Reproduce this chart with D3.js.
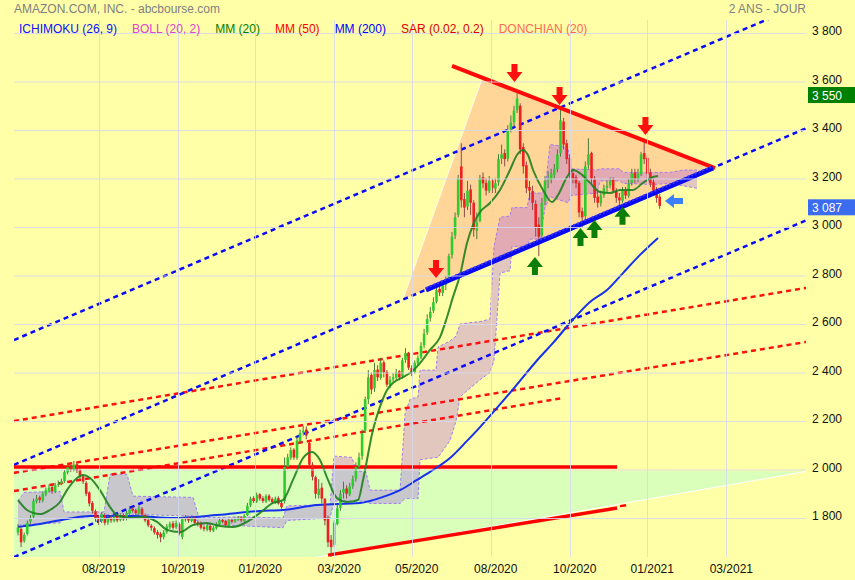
<!DOCTYPE html>
<html><head><meta charset="utf-8">
<script src="https://cdn.jsdelivr.net/npm/d3@7"></script>
<style>
html,body{margin:0;padding:0;background:#ffffa8;}
svg{display:block;font-family:"Liberation Sans",Arial,sans-serif;}
</style></head><body>
<svg id="c" width="855" height="580"></svg>
<script>
// ---------- DATA ----------
// one candle every 2 trading days; day 0 ~ early June 2019
const candleStep = 2;
const opens = [
1740,1755,1705,1735,1785,1805,1868,1885,1872,1898,
1912,1928,1908,1938,1942,1952,1988,2012,1998,2022,
1998,1972,1945,1905,1862,1828,1805,1788,1812,1782,
1802,1788,1808,1792,1812,1796,1818,1838,1832,1818,
1838,1812,1792,1768,1758,1742,1735,1722,1742,1762,
1778,1762,1775,1722,1800,1798,1788,1802,1782,1778,
1762,1752,1768,1748,1758,1772,1792,1788,1768,1792,
1786,1792,1802,1788,1812,1852,1882,1868,1898,1882,
1868,1892,1878,1862,1882,1862,1870,2012,2048,2082,
2048,2118,2152,2165,2110,2020,1968,1895,1925,1880,
1800,1710,1690,1775,1842,1905,1922,1898,1932,1962,
2012,2055,2160,2290,2390,2335,2412,2378,2442,2402,
2348,2372,2378,2405,2385,2452,2482,2418,2402,2438,
2462,2512,2565,2625,2655,2692,2745,2728,2762,2790,
2885,2965,3050,3250,3115,3085,3155,3100,2985,3025,
3205,3182,3148,3192,3158,3185,3282,3305,3282,3402,
3432,3482,3500,3330,3255,3165,3148,3095,3010,2965,
3105,3192,3195,3215,3238,3305,3435,3345,3285,3222,
3205,3182,3065,3045,3255,3305,3195,3125,3098,3132,
3162,3172,3195,3148,3122,3108,3152,3128,3182,3225,
3198,3218,3305,3285,3225,3185,3148,3125];
const highs = [
1775,1762,1740,1790,1812,1880,1895,1892,1910,1925,
1938,1934,1945,1955,1962,1998,2025,2018,2035,2028,
2005,1980,1952,1910,1870,1835,1812,1825,1820,1810,
1812,1815,1815,1820,1818,1830,1848,1845,1838,1852,
1845,1818,1798,1775,1765,1750,1742,1750,1775,1785,
1788,1790,1782,1802,1812,1805,1810,1806,1790,1785,
1770,1778,1775,1768,1782,1798,1800,1792,1798,1798,
1802,1808,1808,1815,1862,1888,1890,1905,1902,1890,
1898,1898,1885,1888,1890,1870,2050,2065,2092,2088,
2135,2165,2180,2178,2115,2030,1975,1960,1945,1880,
1810,1730,1790,1855,1915,1950,1935,1945,1975,2030,
2070,2165,2300,2410,2400,2440,2430,2460,2450,2410,
2385,2398,2415,2410,2460,2500,2485,2430,2450,2470,
2525,2580,2640,2670,2710,2760,2760,2775,2800,2890,
2980,3060,3215,3345,3140,3190,3175,3110,3060,3215,
3225,3200,3210,3200,3200,3300,3340,3320,3420,3460,
3500,3552,3510,3345,3270,3190,3170,3110,3040,3120,
3210,3230,3240,3260,3320,3496,3450,3360,3300,3240,
3215,3190,3080,3270,3366,3310,3210,3150,3150,3175,
3190,3205,3205,3160,3140,3165,3165,3200,3240,3240,
3240,3310,3350,3295,3240,3200,3165,3135];
const lows = [
1728,1680,1698,1728,1776,1798,1860,1862,1865,1890,
1905,1900,1902,1928,1935,1945,1980,1990,1992,1985,
1962,1940,1890,1848,1818,1785,1772,1780,1770,1772,
1780,1782,1782,1785,1788,1790,1812,1822,1812,1812,
1808,1782,1762,1748,1732,1715,1700,1712,1735,1755,
1752,1755,1728,1712,1785,1780,1782,1772,1765,1752,
1745,1745,1742,1742,1752,1768,1778,1762,1765,1778,
1780,1788,1782,1782,1808,1845,1862,1862,1872,1862,
1862,1868,1858,1858,1855,1838,1860,2000,2040,2040,
2040,2110,2140,2125,2010,1955,1880,1880,1860,1770,
1680,1640,1680,1770,1830,1880,1880,1890,1920,1950,
2000,2040,2150,2270,2310,2320,2365,2370,2380,2340,
2335,2360,2365,2368,2375,2440,2410,2385,2395,2430,
2455,2500,2555,2610,2645,2685,2715,2715,2740,2780,
2870,2950,3040,3080,3040,3070,3050,2960,2950,3020,
3160,3130,3140,3140,3140,3170,3260,3250,3270,3390,
3415,3470,3300,3220,3140,3110,3070,2960,2880,2950,
3090,3160,3180,3200,3225,3290,3320,3260,3200,3180,
3160,3040,3000,3030,3240,3180,3100,3080,3085,3120,
3140,3160,3140,3100,3090,3100,3115,3120,3170,3180,
3185,3210,3260,3200,3165,3135,3100,3075];
const closes = [
1760,1700,1730,1780,1800,1870,1880,1875,1900,1915,
1925,1910,1935,1940,1950,1990,2010,2000,2020,1995,
1975,1950,1900,1860,1830,1800,1790,1815,1780,1800,
1790,1805,1790,1810,1795,1820,1835,1830,1820,1840,
1815,1790,1770,1760,1740,1730,1720,1740,1765,1775,
1760,1780,1735,1795,1795,1790,1800,1780,1775,1760,
1755,1770,1750,1760,1775,1790,1785,1770,1790,1785,
1795,1800,1790,1810,1850,1880,1870,1895,1880,1870,
1890,1875,1865,1880,1860,1845,2010,2050,2080,2050,
2120,2150,2160,2140,2020,1970,1900,1920,1880,1790,
1700,1680,1780,1840,1900,1920,1900,1930,1960,2010,
2050,2150,2290,2380,2330,2410,2380,2440,2400,2350,
2370,2380,2400,2380,2450,2480,2420,2400,2440,2460,
2510,2560,2620,2650,2690,2740,2730,2760,2780,2880,
2960,3040,3200,3110,3080,3150,3100,2990,3020,3200,
3180,3150,3190,3160,3180,3280,3300,3280,3400,3430,
3480,3530,3320,3250,3160,3150,3100,3000,2960,3100,
3190,3200,3220,3240,3300,3440,3340,3280,3220,3200,
3180,3060,3040,3250,3300,3200,3120,3100,3130,3160,
3170,3190,3150,3120,3110,3150,3130,3180,3220,3200,
3220,3300,3280,3220,3180,3150,3120,3087];

// Moving average 20 (day, value)
const mm20Days = [0,5.8,9.7,14.2,20.6,27.1,31.6,38.1,41.9,46.5,52.9,59.4,63.9,72.3,80.6,89.7,96.1,104.5,112.9,121.9,130.3,138.7,147.7,156.1,164.5,170.9,177.4,183.9,189.7,194.8,200,205.8,212.3,219.4,222.6,229,233.5,238.1,241.9,248.4,252.9,259.4,265.8,272.3,276.8,280.6,285.2,289.7,293.5,298.1,304.5,311,317.4,321.9,325.8,329,332.3,338.7,344.5,348.4,354.2,358.1,363.9,369,375.5,381.9,388.4,396.8,403.2,409.7,412.9];
const mm20Vals = [1874,1833,1821,1816,1833,1866,1915,1965,1977,1965,1915,1845,1812,1800,1804,1784,1751,1742,1771,1779,1767,1763,1784,1821,1862,1874,1957,2047,2072,2039,1957,1882,1866,1874,1957,2163,2258,2328,2357,2381,2398,2439,2493,2546,2629,2711,2802,2934,3008,3062,3099,3153,3235,3297,3318,3297,3235,3153,3103,3132,3206,3235,3215,3182,3144,3140,3153,3153,3182,3206,3210];
// Moving average 200
const mm200Days = [0,9.7,31.6,46.5,74.2,100,128.4,156.1,170.9,192.9,220.6,235.5,246.5,257.4,265.8,278.7,289.7,298.1,317.4,336.8,345.2,356.1,369,380,390.3,401.3,412.9];
const mm200Vals = [1763,1771,1796,1808,1808,1800,1812,1829,1833,1854,1862,1887,1915,1957,1990,2047,2118,2175,2316,2464,2522,2604,2691,2740,2810,2885,2955];
// Ichimoku cloud (spans, shifted 26 days forward)
const cloudDays = [0,3.9,27.1,29.7,55.5,59.4,70.3,74.2,112.9,116.8,143.2,171,173.5,201.3,203.9,215.5,218.1,224.5,227.1,246.5,249.7,252.9,258.1,259.4,269.7,271,278.7,282.6,285.2,298.1,304.5,307.1,311,317.4,318.7,328.4,330.3,336.8,340,343.2,354.8,356.8,373.5,375.5,388.4,390.3,409.7,420.6,429,438.1];
const spanTop = [1870,1905,1910,1825,1825,1980,1980,1890,1885,1800,1805,1800,1850,1855,2055,2050,1995,1990,1915,1915,2230,2290,2300,2410,2410,2505,2530,2550,2600,2610,2620,2920,3040,3045,3080,3080,3140,3140,3150,3340,3330,3240,3235,3240,3240,3225,3225,3225,3235,3235];
const spanBot = [1770,1772,1780,1795,1812,1815,1818,1815,1808,1775,1768,1760,1790,1800,1870,1870,1870,1870,1860,1860,1880,1880,1880,2040,2050,2050,2120,2200,2300,2370,2400,2450,2810,2820,2920,2920,2950,2950,3080,3125,3100,3130,3140,3190,3190,3180,3175,3180,3170,3160];

// Drawn objects: [day, price] vertices
const greenTriangle = [[-2.6,2000],[508.4,1992],[-2.6,1420]];
const orangeTriangle = [[248.4,2703],[299.4,3610],[449.7,3243]];
const blueDashed = [[[-2.6,2534],[508.4,3924]],[[-2.6,2019],[508.4,3407]],[[-2.6,1639],[508.4,3027]]];
const redDashed = [[[-2.6,2200],[508.4,2749]],[[-2.6,1986],[508.4,2526]],[[-2.6,1911],[351.6,2295]]];
const redHorizontal = [[-2.6,2010],[386.5,2010]];
const redSupport = [[200,1647],[386.5,1841]];
const redSupportDash = [[388.4,1849],[392.3,1853]];
const redResistance = [[280,3664],[449.7,3243]];
const blueSupport = [[263.2,2740],[448.4,3243]];
const downArrows = [[269.7,2790],[320.3,3598],[349.4,3503],[404.8,3379]];
const upArrows = [[333.5,2876],[362.9,2996],[371.9,3029],[390,3083]];
const leftArrows = [[417.4,3107]];

const yTicks = [1800,2000,2200,2400,2600,2800,3000,3200,3400,3600,3800];
const xTickDays = [52,103,153,204,254,305,356,406,457];
const xTickLabels = ["08/2019","10/2019","01/2020","03/2020","05/2020","08/2020","10/2020","01/2021","03/2021"];
const markerValues = [3550,3087];
const legendLabels = ["ICHIMOKU (26, 9)","BOLL (20, 2)","MM (20)","MM (50)","MM (200)","SAR (0.02, 0.2)","DONCHIAN (20)"];
const title = "AMAZON.COM, INC. - abcbourse.com";
const period = "2 ANS - JOUR";

// ---------- DRAWING ----------
const W=855,H=580;
const L=14,R=806,T=20,B=557;
const svg=d3.select("#c");
svg.append("rect").attr("width",W).attr("height",H).attr("fill","#ffffa8");
const x=d3.scaleLinear().domain([0,400]).range([18,638]);
const y=d3.scaleLinear().domain([1800,3800]).range([518,33]);
const defs=svg.append("defs");
defs.append("clipPath").attr("id","clip").append("rect")
  .attr("x",L).attr("y",T).attr("width",R-L).attr("height",B-T);
const plot=svg.append("g").attr("clip-path","url(#clip)");
const ln=d3.line().x(d=>x(d[0])).y(d=>y(d[1]));

// triangles
plot.append("path").attr("d",ln(greenTriangle)+"Z").attr("fill","#d9ffbb");
plot.append("path").attr("d",ln([greenTriangle[1],greenTriangle[2]]))
  .attr("stroke","#ffffff").attr("stroke-width",1).attr("fill","none");
plot.append("path").attr("d",ln(orangeTriangle)+"Z").attr("fill","#ffd598");
plot.append("path").attr("d",ln([orangeTriangle[0],orangeTriangle[1]]))
  .attr("stroke","#ffffff").attr("stroke-width",1).attr("fill","none").attr("opacity",0.8);

// grid
const grid=svg.append("g");
grid.selectAll("line.h").data(yTicks).join("line")
  .attr("x1",L).attr("x2",R).attr("y1",d=>y(d)+0.5).attr("y2",d=>y(d)+0.5)
  .attr("stroke","#d6d9ee").attr("stroke-width",1).attr("opacity",0.85);
grid.selectAll("line.v").data(xTickDays).join("line")
  .attr("y1",T).attr("y2",B).attr("x1",d=>Math.round(x(d))+0.5).attr("x2",d=>Math.round(x(d))+0.5)
  .attr("stroke","#d6d9ee").attr("stroke-width",1).attr("opacity",0.85);

// ichimoku cloud
const cloud=cloudDays.map((d,i)=>({d,t:spanTop[i],b:spanBot[i]}));
plot.append("path").datum(cloud)
  .attr("d",d3.area().x(p=>x(p.d)).y0(p=>y(p.b)).y1(p=>y(p.t)))
  .attr("fill","rgb(165,80,235)").attr("fill-opacity",0.32);
[["t"],["b"]].forEach(k=>{
  plot.append("path").datum(cloud)
    .attr("d",d3.line().x(p=>x(p.d)).y(p=>y(p[k[0]])))
    .attr("fill","none").attr("stroke","#a37cf0").attr("stroke-width",1).attr("stroke-dasharray","3,2");
});

// dashed channels
redDashed.forEach(s=>plot.append("path").attr("d",ln(s)).attr("stroke","#ff1010")
  .attr("stroke-width",2.5).attr("stroke-dasharray","5,4").attr("fill","none"));
blueDashed.forEach(s=>plot.append("path").attr("d",ln(s)).attr("stroke","#0a0aff")
  .attr("stroke-width",2.5).attr("stroke-dasharray","5,4").attr("fill","none"));

// red horizontal + support
plot.append("path").attr("d",ln(redHorizontal)).attr("stroke","#ff0000").attr("stroke-width",3.5).attr("fill","none");
plot.append("path").attr("d",ln(redSupport)).attr("stroke","#ff0000").attr("stroke-width",3.5).attr("fill","none");
plot.append("path").attr("d",ln(redSupportDash)).attr("stroke","#ff0000").attr("stroke-width",2.5).attr("fill","none");

// MM200
plot.append("path").datum(mm200Days.map((d,i)=>[d,mm200Vals[i]]))
  .attr("d",d3.line().x(d=>x(d[0])).y(d=>y(d[1])).curve(d3.curveMonotoneX))
  .attr("fill","none").attr("stroke","#1530ee").attr("stroke-width",2);

// candles
const candles=opens.map((o,i)=>({d:i*candleStep,o,h:highs[i],l:lows[i],c:closes[i]}));
const cg=plot.append("g");
const bw=2.6;
cg.selectAll("line").data(candles).join("line")
  .attr("x1",d=>x(d.d)).attr("x2",d=>x(d.d))
  .attr("y1",d=>y(d.h)).attr("y2",d=>y(d.l))
  .attr("stroke",d=>d.c>=d.o?"#4d7a3d":"#8a4a4a").attr("stroke-width",1);
cg.selectAll("rect").data(candles).join("rect")
  .attr("x",d=>x(d.d)-bw/2).attr("width",bw)
  .attr("y",d=>y(Math.max(d.o,d.c)))
  .attr("height",d=>Math.max(1,Math.abs(y(d.o)-y(d.c))))
  .attr("fill",d=>d.c>=d.o?"#2ecc2e":"#ee2020");

// MM20
plot.append("path").datum(mm20Days.map((d,i)=>[d,mm20Vals[i]]))
  .attr("d",d3.line().x(d=>x(d[0])).y(d=>y(d[1])).curve(d3.curveMonotoneX))
  .attr("fill","none").attr("stroke","#1f801f").attr("stroke-width",2).attr("stroke-opacity",0.9);

// thick trend lines
plot.append("path").attr("d",ln(redResistance)).attr("stroke","#ff0a0a").attr("stroke-width",4).attr("fill","none");
plot.append("path").attr("d",ln(blueSupport)).attr("stroke","#0a0aee").attr("stroke-width",5).attr("fill","none");
plot.append("path").attr("d",ln(blueSupport)).attr("stroke","#3a3aff").attr("stroke-width",2)
  .attr("stroke-dasharray","2,2").attr("fill","none").attr("transform","translate(0,-2)");

// arrows
const downShape="M0,0L-8,-10L-3,-10L-3,-18L3,-18L3,-10L8,-10Z";
const upShape="M0,0L-8,10L-3,10L-3,18L3,18L3,10L8,10Z";
const leftShape="M0,0L9,-7L9,-3L18,-3L18,3L9,3L9,7Z";
const ag=svg.append("g");
ag.selectAll("path.d").data(downArrows).join("path").attr("d",downShape)
  .attr("transform",d=>`translate(${x(d[0])},${y(d[1])})`).attr("fill","#ff1010");
ag.selectAll("path.u").data(upArrows).join("path").attr("d",upShape)
  .attr("transform",d=>`translate(${x(d[0])},${y(d[1])})`).attr("fill","#0a7d0a");
ag.selectAll("path.l").data(leftArrows).join("path").attr("d",leftShape)
  .attr("transform",d=>`translate(${x(d[0])},${y(d[1])})`).attr("fill","#3d7eff");

// right axis labels
const fmt=v=>d3.format(",")(v).replace(/,/g," ");
svg.append("g").selectAll("text").data(yTicks).join("text")
  .attr("x",812).attr("y",d=>y(d)+2.3)
  .attr("font-size",12).attr("fill","#111").text(fmt);
const markerColors=["#008000","#3b6cf0"];
markerValues.forEach((v,i)=>{
  svg.append("rect").attr("x",808).attr("y",y(v)-6.6).attr("width",47).attr("height",16).attr("fill",markerColors[i]);
  svg.append("text").attr("x",812).attr("y",y(v)+6.4).attr("font-size",12).attr("fill","#fff").text(fmt(v));
});

// x labels
svg.append("g").selectAll("text").data(xTickDays).join("text")
  .attr("x",d=>x(d)+5).attr("y",573).attr("text-anchor","middle")
  .attr("font-size",12).attr("fill","#111").text((d,i)=>xTickLabels[i]);

// title
svg.append("text").attr("x",14).attr("y",13).attr("font-size",12).attr("fill","#808080").text(title);
svg.append("text").attr("x",806).attr("y",13).attr("text-anchor","end").attr("font-size",12).attr("fill","#808080").text(period);

// legend
const legendColors=["#1010ff","#dd44cc","#008000","#ff0000","#0000ff","#dd0000","#ff6a55"];
let lx=19;
legendLabels.forEach((t,i)=>{
  const el=svg.append("text").attr("x",lx).attr("y",33).attr("font-size",12).attr("fill",legendColors[i]).text(t);
  lx+=el.node().getComputedTextLength()+15;
});
</script>
</body></html>
